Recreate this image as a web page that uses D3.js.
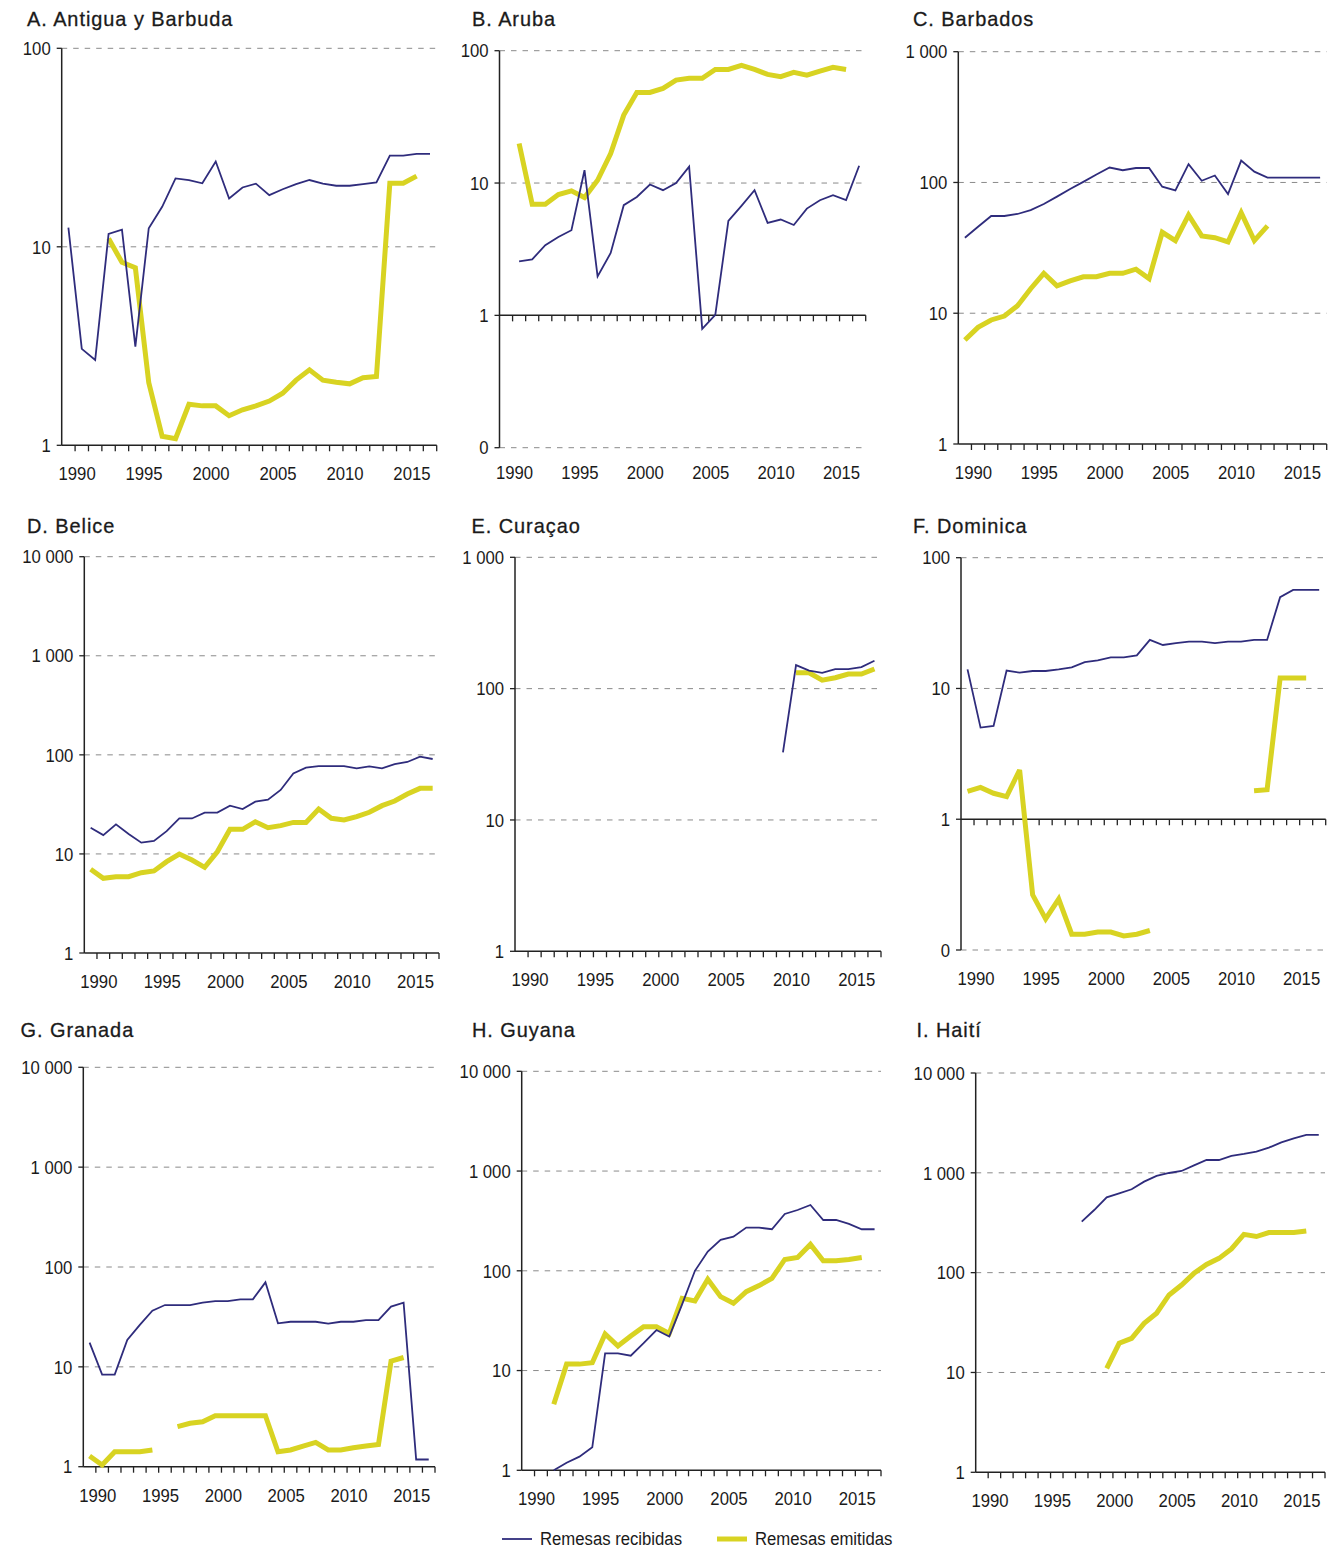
<!DOCTYPE html>
<html>
<head>
<meta charset="utf-8">
<script src="https://cdn.jsdelivr.net/npm/d3@7"></script>
<style>
  html, body { margin: 0; padding: 0; background: #fff; }
  svg { display: block; }
  text { font-family: "Liberation Sans", Arial, "DejaVu Sans", sans-serif; fill: #1a1a1a; }
</style>
</head>
<body>
<svg id="chart" width="1338" height="1548"></svg>
<script>
// ---------------- DATA ----------------
const years = d3.range(1990, 2018);
const _ = null;

const antiguaRecibidas = [12.5, 3.06, 2.69, 11.6, 12.2, 3.14, 12.4, 15.9, 22.1, 21.7, 20.9, 26.9, 17.5, 19.9, 20.8, 18.2, 19.5, 20.7, 21.7, 20.8, 20.3, 20.3, 20.7, 21.1, 28.8, 28.8, 29.4, 29.4];
const antiguaEmitidas  = [_, _, _, 11.0, 8.35, 7.85, 2.07, 1.11, 1.08, 1.61, 1.58, 1.58, 1.41, 1.51, 1.58, 1.67, 1.83, 2.13, 2.40, 2.13, 2.08, 2.04, 2.19, 2.22, 20.9, 20.9, 22.7, _];

const arubaRecibidas = [_, 2.56, 2.65, 3.39, 3.91, 4.40, 12.5, 1.97, 2.96, 6.80, 7.85, 9.74, 8.83, 10.0, 13.3, 0.79, 1.01, 5.17, 6.72, 8.83, 5.0, 5.30, 4.82, 6.41, 7.42, 8.09, 7.42, 13.5];
const arubaEmitidas  = [_, 19.9, 6.92, 6.92, 8.18, 8.73, 7.77, 10.5, 16.7, 32.6, 48.4, 48.4, 51.9, 60.0, 61.8, 61.8, 72.2, 72.2, 77.4, 72.2, 66.2, 63.6, 68.6, 65.4, 70.2, 74.8, 72.2, _];

const barbadosRecibidas = [37.8, 45.9, 55.4, 55.4, 57.4, 61.5, 68.4, 77.9, 89.1, 101, 115, 130, 124, 129, 129, 92.9, 87.1, 138, 103, 113, 81.6, 147, 121, 109, 109, 109, 109, 109];
const barbadosEmitidas  = [6.24, 7.8, 8.88, 9.52, 11.4, 15.4, 20.2, 16.2, 17.7, 19.0, 19.0, 20.2, 20.2, 21.7, 18.4, 41.6, 35.9, 56.4, 39.0, 37.8, 35.1, 58.7, 35.9, 46.5, _, _, _, _];

const beliceRecibidas = [18.4, 15.5, 19.9, 15.9, 13.0, 13.5, 17.0, 22.8, 22.8, 26.1, 26.1, 30.7, 28.4, 33.7, 35.3, 44.2, 65.0, 74.2, 77.1, 77.1, 77.1, 73.1, 76.5, 73.1, 80.8, 84.7, 95.9, 90.8];
const beliceEmitidas  = [6.99, 5.67, 5.89, 5.89, 6.47, 6.73, 8.35, 9.98, 8.68, 7.32, 10.5, 17.7, 17.7, 21.1, 18.4, 19.3, 20.8, 20.8, 28.4, 22.9, 22.0, 23.8, 26.3, 30.7, 34.2, 40.2, 45.9, 45.9];

const curazaoRecibidas = [_, _, _, _, _, _, _, _, _, _, _, _, _, _, _, _, _, _, _, _, 32.7, 151, 137, 132, 141, 141, 146, 163];
const curazaoEmitidas  = [_, _, _, _, _, _, _, _, _, _, _, _, _, _, _, _, _, _, _, _, _, 132, 132, 116, 121, 129, 129, 141];

const dominicaRecibidas = [14.0, 5.02, 5.17, 13.7, 13.2, 13.6, 13.6, 14.0, 14.5, 15.9, 16.4, 17.3, 17.3, 17.9, 23.5, 21.5, 22.2, 22.8, 22.8, 22.2, 22.8, 22.8, 23.5, 23.5, 49.9, 56.7, 56.7, 56.7];
const dominicaEmitidas  = [1.63, 1.75, 1.58, 1.49, 2.38, 0.264, 0.173, 0.245, 0.132, 0.132, 0.137, 0.137, 0.128, 0.132, 0.141, _, _, _, _, _, _, _, 1.65, 1.68, 12.0, 12.0, 12.0, _];

const granadaRecibidas = [17.5, 8.35, 8.35, 18.6, 26.3, 36.5, 41.6, 41.6, 41.6, 43.9, 45.6, 45.6, 47.4, 47.4, 70.2, 27.3, 28.3, 28.3, 28.3, 27.1, 28.3, 28.3, 29.4, 29.4, 40.1, 43.9, 1.18, 1.18];
const granadaEmitidas  = [1.28, 1.04, 1.41, 1.41, 1.41, 1.47, _, 2.52, 2.72, 2.82, 3.24, 3.24, 3.24, 3.24, 3.24, 1.41, 1.47, 1.61, 1.75, 1.47, 1.47, 1.55, 1.61, 1.67, 11.4, 12.4, _, _];

const guyanaRecibidas = [_, _, 1.0, 1.19, 1.37, 1.70, 14.9, 14.9, 14.1, 18.8, 25.5, 21.9, 46.1, 100, 156, 204, 220, 271, 271, 261, 371, 407, 457, 323, 323, 295, 261, 261];
const guyanaEmitidas  = [_, _, 4.59, 11.6, 11.6, 12.0, 23.3, 17.6, 22.2, 27.5, 27.5, 23.6, 53.0, 49.8, 82.2, 55.1, 47.2, 61.8, 71.0, 84.1, 130, 136, 184, 126, 126, 130, 136, _];

const haitiRecibidas = [_, _, _, _, _, _, _, _, 324, 424, 569, 623, 684, 816, 930, 996, 1043, 1189, 1344, 1344, 1475, 1545, 1630, 1787, 2021, 2217, 2395, 2395];
const haitiEmitidas  = [_, _, _, _, _, _, _, _, _, _, 11.0, 19.6, 22.0, 31.1, 39.2, 59.8, 75.2, 98.5, 121, 139, 173, 242, 230, 252, 252, 252, 261, _];

const titles = ["A. Antigua y Barbuda", "B. Aruba", "C. Barbados", "D. Belice", "E. Curaçao", "F. Dominica", "G. Granada", "H. Guyana", "I. Haití"];

const ticks100   = [1, 10, 100];
const ticks01    = [0.1, 1, 10, 100];
const ticks1000  = [1, 10, 100, 1000];
const ticks10000 = [1, 10, 100, 1000, 10000];
const tickLabel = { 0.1: "0", 1: "1", 10: "10", 100: "100", 1000: "1 000", 10000: "10 000" };
const xLabelYears = [1990, 1995, 2000, 2005, 2010, 2015];
const seriesNames = ["Remesas recibidas", "Remesas emitidas"];

// ---------------- LAYOUT ----------------
const series = [
  [antiguaRecibidas, antiguaEmitidas, ticks100],
  [arubaRecibidas, arubaEmitidas, ticks01],
  [barbadosRecibidas, barbadosEmitidas, ticks1000],
  [beliceRecibidas, beliceEmitidas, ticks10000],
  [curazaoRecibidas, curazaoEmitidas, ticks1000],
  [dominicaRecibidas, dominicaEmitidas, ticks01],
  [granadaRecibidas, granadaEmitidas, ticks10000],
  [guyanaRecibidas, guyanaEmitidas, ticks10000],
  [haitiRecibidas, haitiEmitidas, ticks10000]
];
// frame: [x0, x1, yTop, yBottom, titleX, titleY, xLabelDy]
const frames = [
  [61.7, 436.7, 48.3, 445.3, 27, 26, 34.7],
  [499.5, 865.7, 50.7, 447.7, 472, 26, 31.5],
  [958.3, 1326.7, 51.7, 444.0, 913, 26, 35],
  [84.3, 439.0, 556.7, 953.0, 27, 533, 34.7],
  [515.0, 881.0, 557.3, 951.3, 471.5, 533, 34.7],
  [961.0, 1325.7, 557.7, 950.0, 913, 533, 35],
  [83.3, 435.0, 1067.3, 1466.7, 20.5, 1037, 35],
  [521.7, 881.0, 1071.3, 1470.3, 472, 1037, 34.7],
  [975.7, 1325.0, 1073.0, 1472.3, 916.5, 1037, 34.4]
];

const BLUE = "#2f2c7c";
const YELLOW = "#d8d322";
const GRID = "#8a8a8a";
const SX = 0.88;   // horizontal condensing of the small text
const FS = 19;

const svg = d3.select("#chart");

function label(g, x, y, str, anchor, size, sx) {
  return g.append("text")
    .attr("transform", `translate(${x},${y}) scale(${sx},1)`)
    .attr("text-anchor", anchor)
    .attr("font-size", size)
    .text(str);
}

series.forEach((s, i) => {
  const [rec, emi, yt] = s;
  const [x0, x1, yTop, yBot, tx, ty, xdy] = frames[i];
  const g = svg.append("g");

  const x = d3.scaleBand().domain(years).range([x0, x1]).padding(0);
  const bw = x.bandwidth();
  const y = d3.scaleLog().domain([yt[0], yt[yt.length - 1]]).range([yBot, yTop]);
  const axisVal = yt[0] < 1 ? 1 : yt[0];
  const yAxisLine = y(axisVal);

  // title
  label(g, tx, ty, titles[i], "start", 21, 0.95)
    .attr("letter-spacing", 1)
    .attr("stroke", "#1a1a1a").attr("stroke-width", 0.3);

  // gridlines (dashed), except at the axis value
  g.selectAll(".grid").data(yt.filter(v => v !== axisVal)).join("line")
    .attr("x1", x0).attr("x2", x1)
    .attr("y1", d => y(d)).attr("y2", d => y(d))
    .attr("stroke", GRID).attr("stroke-width", 1).attr("stroke-dasharray", "5.5,6");

  // y-axis tick marks and labels
  g.selectAll(".yt").data(yt).join("line")
    .attr("x1", x0 - 5).attr("x2", x0)
    .attr("y1", d => y(d)).attr("y2", d => y(d))
    .attr("stroke", "#222").attr("stroke-width", 1.3);
  yt.forEach(v => label(g, x0 - 11, y(v) + 6.7, tickLabel[v], "end", FS, SX));

  // y axis line
  g.append("line").attr("x1", x0).attr("x2", x0).attr("y1", yTop).attr("y2", yBot)
    .attr("stroke", "#222").attr("stroke-width", 1.5);

  // x axis line and tick marks at band boundaries
  g.append("line").attr("x1", x0).attr("x2", x1).attr("y1", yAxisLine).attr("y2", yAxisLine)
    .attr("stroke", "#222").attr("stroke-width", 1.5);
  const bounds = years.map(yr => x(yr) + bw);
  g.selectAll(".xt").data(bounds).join("line")
    .attr("x1", d => d).attr("x2", d => d)
    .attr("y1", yAxisLine).attr("y2", yAxisLine + 6)
    .attr("stroke", "#222").attr("stroke-width", 1.3);

  // x labels
  xLabelYears.forEach(yr => label(g, x(yr) + bw * 1.15, yBot + xdy, yr, "middle", FS, SX));

  const line = d3.line()
    .defined(d => d.v != null)
    .x(d => x(d.yr) + bw / 2)
    .y(d => y(d.v));

  const toPts = arr => years.map((yr, k) => ({ yr, v: arr[k] }));

  g.append("path").datum(toPts(emi)).attr("d", line)
    .attr("fill", "none").attr("stroke", YELLOW).attr("stroke-width", 5)
    .attr("stroke-linejoin", "miter").attr("stroke-miterlimit", 3);
  g.append("path").datum(toPts(rec)).attr("d", line)
    .attr("fill", "none").attr("stroke", BLUE).attr("stroke-width", 1.8)
    .attr("stroke-linejoin", "miter");
});

// legend
const legend = svg.append("g");
const legItems = [
  { name: seriesNames[0], color: BLUE, w: 1.8, x: 502 },
  { name: seriesNames[1], color: YELLOW, w: 5, x: 717 }
];
legItems.forEach(it => {
  legend.append("line").attr("x1", it.x).attr("x2", it.x + 30).attr("y1", 1539).attr("y2", 1539)
    .attr("stroke", it.color).attr("stroke-width", it.w);
  label(legend, it.x + 38, 1544.5, it.name, "start", FS, SX);
});
</script>
</body>
</html>
